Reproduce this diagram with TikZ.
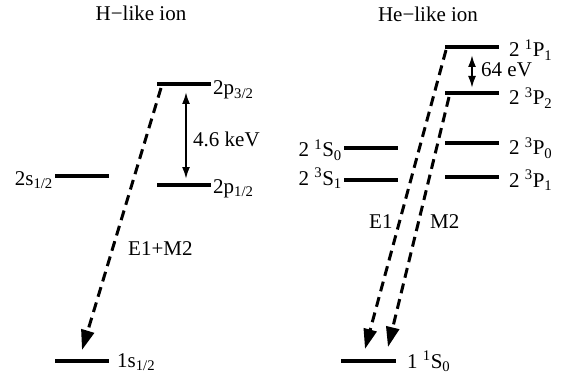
\documentclass[tikz,border=0pt]{standalone}
\usepackage{fontspec}
\setmainfont{Liberation Serif}
\usetikzlibrary{arrows.meta}
\begin{document}
\begin{tikzpicture}[x=1pt,y=-1pt,
  level/.style={line width=4pt},
  lbl/.style={inner sep=0pt,font=\fontsize{21}{25}\selectfont},
  trans/.style={line width=3pt,dash pattern=on 10pt off 6pt,-{Triangle[length=20pt,width=13pt]}},
  gap/.style={line width=2pt,{Latex[length=12pt,width=8pt]}-{Latex[length=12pt,width=8pt]}}]
\useasboundingbox (0,0) rectangle (564,382);
% H-like levels
\coordinate (hp3a) at (157,84);  \coordinate (hp3b) at (211,84);
\coordinate (hp1a) at (157,185); \coordinate (hp1b) at (211,185);
\coordinate (hs2a) at (55,176);  \coordinate (hs2b) at (109,176);
\coordinate (hs1a) at (55,361);  \coordinate (hs1b) at (109,361);
\draw[level] (hp3a) -- (hp3b);
\draw[level] (hp1a) -- (hp1b);
\draw[level] (hs2a) -- (hs2b);
\draw[level] (hs1a) -- (hs1b);
% He-like levels
\coordinate (P1a) at (445,47);  \coordinate (P1b) at (499,47);
\coordinate (P2a) at (445,93);  \coordinate (P2b) at (499,93);
\coordinate (P0a) at (445,143); \coordinate (P0b) at (499,143);
\coordinate (Q1a) at (445,177); \coordinate (Q1b) at (499,177);
\coordinate (S0a) at (344,148); \coordinate (S0b) at (398,148);
\coordinate (S1a) at (344,180); \coordinate (S1b) at (398,180);
\coordinate (Ga) at (341,361);  \coordinate (Gb) at (396,361);
\draw[level] (P1a) -- (P1b);
\draw[level] (P2a) -- (P2b);
\draw[level] (P0a) -- (P0b);
\draw[level] (Q1a) -- (Q1b);
\draw[level] (S0a) -- (S0b);
\draw[level] (S1a) -- (S1b);
\draw[level] (Ga) -- (Gb);
% titles
\node[lbl,anchor=base] (th) at (141,21) {H−like ion};
\node[lbl,anchor=base] (the) at (428,22) {He−like ion};
% H labels
\node[lbl,anchor=base west] (lp3) at (213,95) {2p\textsubscript{3/2}};
\node[lbl,anchor=base west] (lp1) at (213,193) {2p\textsubscript{1/2}};
\node[lbl,anchor=base east] (ls2) at (53,185) {2s\textsubscript{1/2}};
\node[lbl,anchor=base west] (ls1) at (117,367) {1s\textsubscript{1/2}};
% He labels
\node[lbl,anchor=base west] (lP1) at (509,57) {2 \textsuperscript{1}P\textsubscript{1}};
\node[lbl,anchor=base west] (lP2) at (509,105) {2 \textsuperscript{3}P\textsubscript{2}};
\node[lbl,anchor=base west] (lP0) at (509,155) {2 \textsuperscript{3}P\textsubscript{0}};
\node[lbl,anchor=base west] (lQ1) at (509,187) {2 \textsuperscript{3}P\textsubscript{1}};
\node[lbl,anchor=base east] (lS0) at (342,157) {2 \textsuperscript{1}S\textsubscript{0}};
\node[lbl,anchor=base east] (lS1) at (342,185) {2 \textsuperscript{3}S\textsubscript{1}};
\node[lbl,anchor=base west] (lG) at (407,368) {1 \textsuperscript{1}S\textsubscript{0}};
% gap arrows
\coordinate (g1t) at (186,92); \coordinate (g1b) at (186,179);
\coordinate (g2t) at (472,55); \coordinate (g2b) at (472,88);
\draw[gap] (g1t) -- (g1b);
\draw[gap] (g2t) -- (g2b);
\node[lbl,anchor=base west] (kev) at (193,147) {4.6 keV};
\node[lbl,anchor=base west] (ev) at (481,77) {64 eV};
% transitions
\coordinate (t1s) at (161,88);  \coordinate (t1e) at (82,350);
\coordinate (t2s) at (446,50);  \coordinate (t2e) at (365,349);
\coordinate (t3s) at (449,97);  \coordinate (t3e) at (388,347);
\draw[trans] (t1s) -- (t1e);
\draw[trans] (t2s) -- (t2e);
\draw[trans] (t3s) -- (t3e);
\node[lbl,anchor=base west] (e1m2) at (128,255) {E1+M2};
\node[lbl,anchor=base west] (e1) at (369,228) {E1};
\node[lbl,anchor=base west] (m2) at (430,228) {M2};
\end{tikzpicture}
\end{document}
